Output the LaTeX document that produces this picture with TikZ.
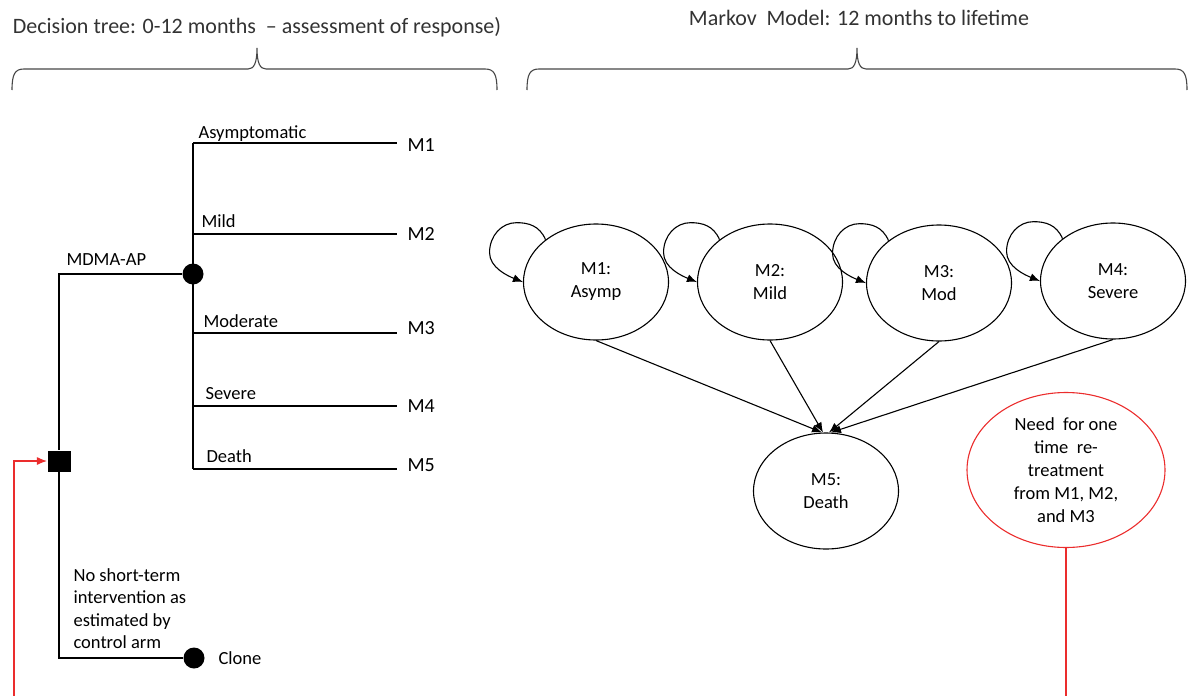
\documentclass[tikz,border=0pt]{standalone}
\usepackage{fontspec}
\setmainfont{Carlito}
\usepackage{tikz}
\usetikzlibrary{arrows.meta,positioning,shapes.geometric}
\definecolor{retreat}{RGB}{235,45,45}
\definecolor{bracegray}{RGB}{70,70,70}

\begin{document}
\begin{tikzpicture}[x=1pt, y=-1pt, line width=1.1pt, >={Latex[length=10pt,width=8pt]},
	lbl/.style={font=\fontsize{18.5}{22.5}\selectfont, inner sep=0pt},
	mlbl/.style={font=\fontsize{20}{24}\selectfont, inner xsep=10pt, inner ysep=0pt, anchor=west},
	state/.style={draw, ellipse, minimum width=145pt, minimum height=116pt, inner sep=0pt, align=center, font=\fontsize{18.5}{23}\selectfont},
	chance/.style={circle, fill=black, minimum size=21pt, inner sep=0pt},
	decision/.style={rectangle, fill=black, minimum width=23pt, minimum height=21pt, inner sep=0pt},
	heading/.style={font=\fontsize{22}{26}\selectfont, text=black!80, anchor=base}]
	\path [use as bounding box, clip] (0,0) rectangle (1189,696);
	% заголовки
	\node [heading] (tree) at (257,33) {Decision tree: 0-12 months\ \ -- assessment of response)};
	\node [heading] (markov) at (859,25) {Markov\ \ Model: 12 months to lifetime};
	\foreach \a/\m/\b in {12/257/497, 527/857/1187}
		\draw [bracegray] (\a,90) .. controls (\a,74) and ({\a+3},69) .. ({\a+12},69) -- ({\m-9},69)
			.. controls ({\m-3},69) and (\m,63) .. (\m,48) .. controls (\m,63) and ({\m+3},69) .. ({\m+9},69)
			-- ({\b-12},69) .. controls ({\b-3},69) and (\b,74) .. (\b,90);
	% дерево решений
	\node [decision] (dec) at (59,461) {};
	\node [chance] (ch1) at (193,274) {};
	\node [chance] (ch2) at (194,658) {};
	\coordinate (b1) at (193,143);
	\coordinate (b2) at (193,234);
	\coordinate (b3) at (193,333);
	\coordinate (b4) at (193,406);
	\coordinate (b5) at (193,469);
	\node [mlbl] (e1) at (397,145) {M1};
	\node [mlbl] (e2) at (397,234) {M2};
	\node [mlbl] (e3) at (397,328) {M3};
	\node [mlbl] (e4) at (397,406) {M4};
	\node [mlbl] (e5) at (397,465) {M5};
	\draw (dec.north) |- (ch1.west);
	\draw (dec.south) |- (ch2.west);
	\draw (b1) -- (b5);
	\foreach \i in {1,...,5}
		\draw (b\i) -- (b\i -| e\i.west);
	% подписи ветвей
	\node [lbl, anchor=base west] (l1) at (198,138) {Asymptomatic};
	\node [lbl, anchor=base west] (l2) at (201,227) {Mild};
	\node [lbl, anchor=base west] (l3) at (203,327) {Moderate};
	\node [lbl, anchor=base west] (l4) at (205,399) {Severe};
	\node [lbl, anchor=base west] (l5) at (206,462) {Death};
	\node [lbl, anchor=base west] (arm1) at (66,265) {MDMA-AP};
	\node [lbl, align=left, anchor=north west] (arm2) at (73,568) {No short-term\\intervention as\\estimated by\\control arm};
	\node [lbl, right=13pt of ch2] (clone) {Clone};
	% марковская модель
	\node [state] (s1) at (596,282) {M1:\\Asymp};
	\node [state] (s2) at (770,282) {M2:\\Mild};
	\node [state] (s3) at (939,283) {M3:\\Mod};
	\node [state] (s4) at (1113,281) {M4:\\Severe};
	\node [state] (s5) at (826,491) {M5:\\Death};
	\node [state, draw=retreat, minimum width=198pt, minimum height=155pt] (rt) at (1066,470) {Need\ \ for one\\time\ \ re-\\treatment\\from M1, M2,\\and M3};
	\foreach \s in {s1,s2,s3,s4}
		\draw [->] (\s.140) .. controls +(-6,-14) and +(12,0) .. ++(-29,-17)
			.. controls +(-15,0) and +(0,-17) .. ++(-27,30)
			.. controls +(0,15) and +(-15,-6) .. (\s.west);
	\draw [->] (s1.south) -- ([xshift=-4pt]s5.north);
	\draw [->] (s2.south) -- ([xshift=-3pt]s5.north);
	\draw [->] (s3.south) -- ([xshift=3pt]s5.north);
	\draw [->] (s4.south) -- ([xshift=5pt]s5.north);
	% повторное лечение
	\coordinate (loopback) at (14,730);
	\draw [->, retreat] (rt.south) |- (loopback) |- (dec.west);
\end{tikzpicture}
\end{document}
